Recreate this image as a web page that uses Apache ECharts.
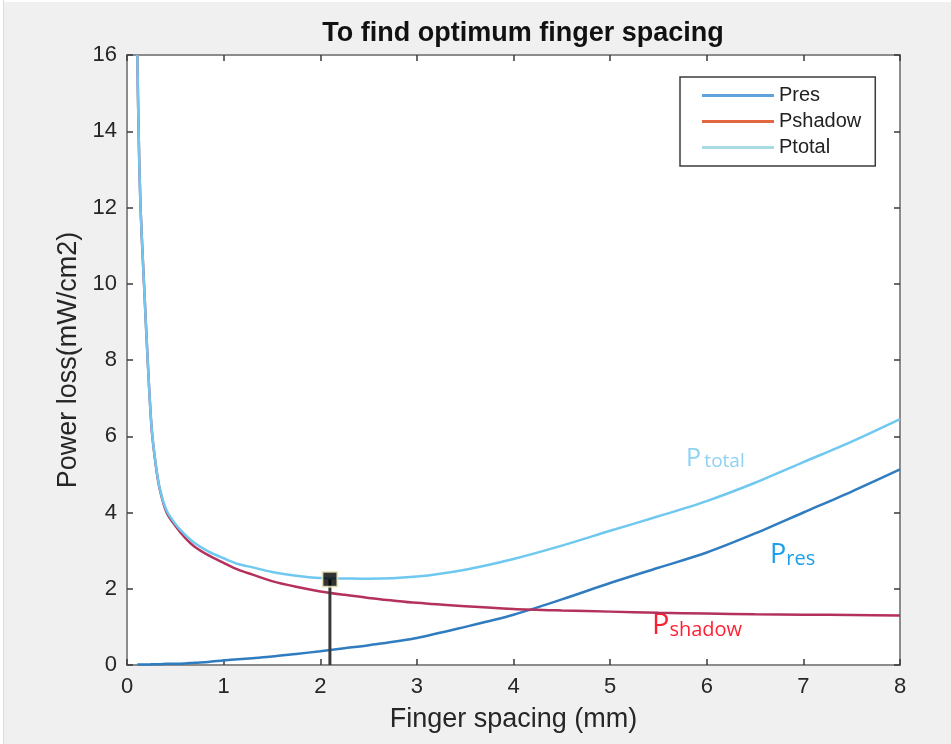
<!DOCTYPE html>
<html>
<head>
<meta charset="utf-8">
<title>To find optimum finger spacing</title>
<script src="https://cdn.jsdelivr.net/npm/echarts@6/dist/echarts.min.js"></script>
<style>
  html, body { margin: 0; padding: 0; background: #ffffff; }
  #chart { position: absolute; left: 4px; top: 2px; width: 947px; height: 742px; }
  #edge { position: absolute; left: 3px; top: 0; width: 1px; height: 744px; background: #d4dcea; }
</style>
</head>
<body>
<div id="edge"></div>
<div id="chart"></div>
<script>
// finger spacing (mm)
const spacing = [0.107, 0.12, 0.14, 0.176, 0.214, 0.255, 0.3, 0.34, 0.41, 0.5, 0.6, 0.7, 0.84, 1, 1.15, 1.3, 1.5, 1.75, 2, 2.25, 2.5, 3, 3.5, 4, 4.5, 5, 5.5, 6, 6.5, 7, 7.5, 8];

// power losses (mW/cm2)
const pRes = [0.01, 0.01, 0.01, 0.01, 0.01, 0.02, 0.02, 0.02, 0.03, 0.03, 0.04, 0.06, 0.08, 0.12, 0.15, 0.18, 0.22, 0.29, 0.36, 0.44, 0.52, 0.71, 1.0, 1.32, 1.72, 2.15, 2.55, 2.95, 3.45, 4.0, 4.55, 5.13];
const pShadow = [16, 14, 12, 10, 8, 6.2, 5.2, 4.6, 4.0, 3.65, 3.34, 3.1, 2.88, 2.68, 2.5, 2.37, 2.2, 2.05, 1.93, 1.84, 1.76, 1.63, 1.54, 1.47, 1.43, 1.4, 1.37, 1.35, 1.33, 1.32, 1.31, 1.3];
const pTotal = [16, 14, 12, 10, 8, 6.22, 5.22, 4.62, 4.05, 3.7, 3.42, 3.2, 2.98, 2.8, 2.65, 2.56, 2.44, 2.34, 2.28, 2.27, 2.26, 2.32, 2.5, 2.78, 3.13, 3.52, 3.9, 4.3, 4.78, 5.32, 5.86, 6.45];

// optimum point and its drop line
const optimum = [2.1, 2.25];
const stem = [[2.1, 0], [2.1, 2.25]];

const chart = echarts.init(document.getElementById('chart'));

const pair = (xs, ys) => xs.map((x, i) => [x, ys[i]]);

const axisFont = 'Liberation Sans, Arial, sans-serif';
const annoFont = '"Open Sans", Lato, sans-serif';

const baseAxis = {
  type: 'value',
  axisLine: { show: true, onZero: false, lineStyle: { color: '#8c8c8c', width: 2 } },
  axisTick: { show: true, inside: true, length: 6, lineStyle: { color: '#3a3a3a', width: 1.5 } },
  splitLine: { show: false }
};

const legendLine = 'path://M0,0 L72,0 L72,3 L0,3 Z';

const option = {
  backgroundColor: '#f0f0f0',
  animation: false,
  title: {
    text: 'To find optimum finger spacing',
    left: 514,
    top: 13,
    textAlign: 'center',
    textStyle: { fontFamily: axisFont, fontSize: 27, fontWeight: 'bold', color: '#111' }
  },
  grid: {
    left: 123, top: 53, right: 51, bottom: 79,
    show: true, backgroundColor: '#ffffff', borderWidth: 0
  },
  legend: {
    orient: 'vertical',
    left: 676,
    top: 75,
    padding: [8, 14, 8, 22],
    itemGap: 5,
    itemWidth: 72,
    itemHeight: 3,
    backgroundColor: '#ffffff',
    borderColor: '#3c3c3c',
    borderWidth: 1.5,
    textStyle: { fontFamily: axisFont, fontSize: 20, color: '#222', lineHeight: 21 },
    data: [
      { name: 'Pres', icon: legendLine, itemStyle: { color: '#5fa3da' } },
      { name: 'Pshadow', icon: legendLine, itemStyle: { color: '#e2673e' } },
      { name: 'Ptotal', icon: legendLine, itemStyle: { color: '#a9dbe2' } }
    ]
  },
  xAxis: [
    Object.assign({}, baseAxis, {
      min: 0, max: 8, interval: 1,
      name: 'Finger spacing (mm)',
      nameLocation: 'middle',
      nameGap: 41,
      nameTextStyle: { fontFamily: axisFont, fontSize: 27, color: '#262626' },
      axisLabel: { fontFamily: axisFont, fontSize: 22, color: '#262626', margin: 11 }
    }),
    Object.assign({}, baseAxis, {
      position: 'top', min: 0, max: 8, interval: 1,
      axisLabel: { show: false }
    })
  ],
  yAxis: [
    Object.assign({}, baseAxis, {
      min: 0, max: 16, interval: 2,
      name: 'Power loss(mW/cm2)',
      nameLocation: 'middle',
      nameGap: 43,
      nameTextStyle: { fontFamily: axisFont, fontSize: 27, color: '#262626' },
      axisLabel: { fontFamily: axisFont, fontSize: 22, color: '#262626', margin: 10 }
    }),
    Object.assign({}, baseAxis, {
      position: 'right', min: 0, max: 16, interval: 2,
      axisLabel: { show: false }
    })
  ],
  series: [
    {
      name: 'Pres', type: 'line', data: pair(spacing, pRes),
      symbol: 'none', smooth: 0.3,
      lineStyle: { color: '#2f7cc0', width: 2.5 }, itemStyle: { color: '#2f7cc0' }
    },
    {
      name: 'Pshadow', type: 'line', data: pair(spacing, pShadow),
      symbol: 'none', smooth: 0.3,
      lineStyle: { color: '#b3315a', width: 2.5 }, itemStyle: { color: '#b3315a' }
    },
    {
      name: 'Ptotal', type: 'line', data: pair(spacing, pTotal),
      symbol: 'none', smooth: 0.3,
      lineStyle: { color: '#6fc8ef', width: 2.5 }, itemStyle: { color: '#6fc8ef' }
    },
    {
      name: 'stem', type: 'line', data: stem, z: 4,
      symbol: 'none', lineStyle: { color: '#3a3a3a', width: 3 }
    },
    {
      name: 'optimum', type: 'scatter', data: [optimum], z: 6,
      symbol: 'rect', symbolSize: 15,
      itemStyle: { color: '#000000', borderColor: '#f5f2c4', borderWidth: 2 }
    }
  ],
  graphic: [
    {
      type: 'text', left: 682, top: 444,
      style: {
        text: '{a|P} {b|total}',
        fill: '#8ed3f1',
        rich: {
          a: { fontFamily: annoFont, fontSize: 25, fill: '#8ed3f1', verticalAlign: 'bottom', lineHeight: 28 },
          b: { fontFamily: annoFont, fontSize: 19, fill: '#8ed3f1', verticalAlign: 'bottom', lineHeight: 24 }
        }
      }
    },
    {
      type: 'text', left: 766, top: 540,
      style: {
        text: '{a|P}{b|res}',
        fill: '#1b9fe8',
        rich: {
          a: { fontFamily: annoFont, fontSize: 27, fill: '#1b9fe8', verticalAlign: 'bottom', lineHeight: 30 },
          b: { fontFamily: annoFont, fontSize: 20, fill: '#1b9fe8', verticalAlign: 'bottom', lineHeight: 25 }
        }
      }
    },
    {
      type: 'text', left: 648, top: 609,
      style: {
        text: '{a|P}{b|shadow}',
        fill: '#ff1f33',
        rich: {
          a: { fontFamily: annoFont, fontSize: 29, fill: '#ff1f33', verticalAlign: 'bottom', lineHeight: 32 },
          b: { fontFamily: annoFont, fontSize: 20, fill: '#ff1f33', verticalAlign: 'bottom', lineHeight: 25 }
        }
      }
    }
  ]
};

chart.setOption(option);
window.addEventListener('resize', () => chart.resize());
</script>
</body>
</html>
